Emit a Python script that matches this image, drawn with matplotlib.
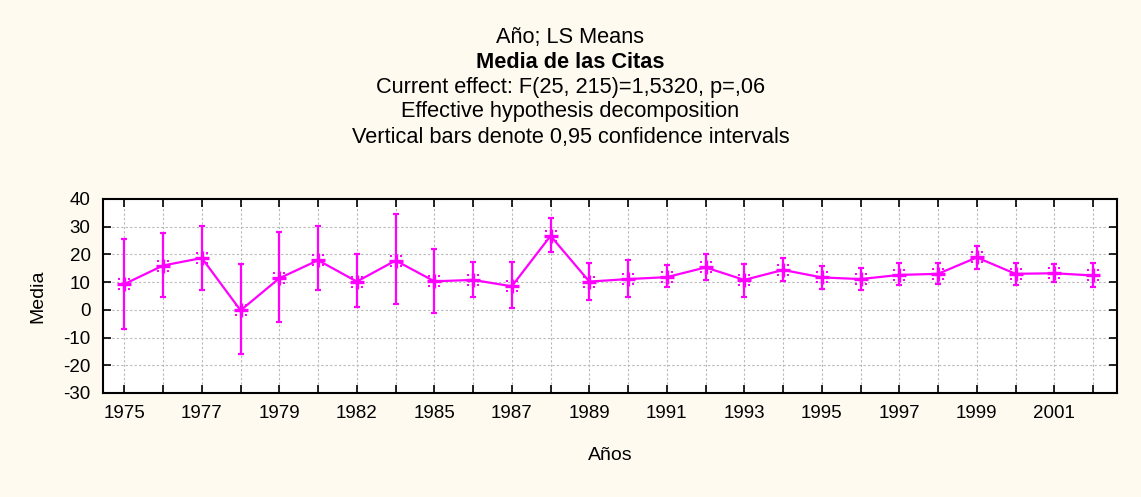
import numpy as np
import matplotlib
matplotlib.use("Agg")
import matplotlib.pyplot as plt
from matplotlib.path import Path

# LS means per year with 0.95 confidence limits
anios = ["1975", "1976", "1977", "1978", "1979", "1980", "1982", "1983", "1985",
         "1986", "1987", "1988", "1989", "1990", "1991", "1992", "1993", "1994",
         "1995", "1996", "1997", "1998", "1999", "2000", "2001", "2002"]
media = [9.3, 16.0, 18.7, -0.2, 11.4, 17.9, 10.2, 17.8, 10.3,
         10.8, 8.5, 26.7, 10.2, 11.1, 11.8, 15.3, 10.8, 14.4,
         11.7, 11.1, 12.6, 13.0, 18.9, 13.0, 13.2, 12.4]
lim_inf = [-6.9, 4.8, 7.2, -16.1, -4.5, 7.0, 1.0, 2.0, -1.0,
           4.8, 0.8, 20.7, 3.6, 4.6, 8.3, 10.6, 4.8, 10.5,
           7.6, 7.0, 9.1, 9.5, 14.8, 9.1, 10.2, 8.2]
lim_sup = [25.6, 27.8, 30.3, 16.4, 28.2, 30.1, 20.0, 34.7, 22.1,
           17.1, 17.4, 33.0, 16.8, 18.0, 16.1, 20.2, 16.4, 18.8,
           15.9, 15.2, 17.0, 17.0, 23.1, 17.0, 16.5, 17.0]

plt.rcParams["font.family"] = ["Liberation Sans", "DejaVu Sans"]
plt.rcParams["axes.unicode_minus"] = False

MAGENTA = "#ff00ff"
FONDO = "#fffaf0"


# four little dots at the corners of the cross
def marcador_puntos():
    verts, codes = [], []
    s = 0.2
    for cx, cy in [(-0.8, -0.8), (-0.8, 0.8), (0.8, -0.8), (0.8, 0.8)]:
        verts += [(cx - s, cy - s), (cx + s, cy - s), (cx + s, cy + s),
                  (cx - s, cy + s), (cx - s, cy - s)]
        codes += [Path.MOVETO, Path.LINETO, Path.LINETO, Path.LINETO, Path.CLOSEPOLY]
    return Path(verts, codes)


x = np.arange(len(anios))
media = np.array(media)
err = [media - np.array(lim_inf), np.array(lim_sup) - media]

fig = plt.figure(figsize=(11.41, 4.97), dpi=100, facecolor=FONDO)
ax = fig.add_axes([0.0903, 0.2093, 0.8887, 0.3903])
ax.set_facecolor("white")

ax.errorbar(x, media, yerr=err, fmt="none", ecolor=MAGENTA, elinewidth=1.6,
            capsize=2.5, capthick=1.6, zorder=3)
ax.plot(x, media, color=MAGENTA, lw=1.6, marker="+", markersize=10,
        markeredgewidth=2.4, zorder=4)
ax.plot(x, media, ls="none", marker=marcador_puntos(), markersize=9,
        color=MAGENTA, markeredgewidth=0, zorder=4)

ax.set_xlim(-0.55, len(anios) - 1 + 0.62)
ax.set_ylim(-30, 40)
ax.set_yticks(np.arange(-30, 41, 10))
ax.set_xticks(x)
ax.set_xticklabels([a if i % 2 == 0 else "" for i, a in enumerate(anios)])

ax.grid(True, color="#b8b8b8", ls=(0, (2, 2)), lw=0.8)
ax.set_axisbelow(True)
ax.tick_params(direction="in", top=True, right=True, length=6, width=1.2,
               labelsize=13.5, colors="black")
ax.tick_params(axis="x", pad=9)
ax.tick_params(axis="y", pad=9)
for sp in ax.spines.values():
    sp.set_linewidth(1.5)
    sp.set_color("black")

ax.set_xlabel("Años", fontsize=14, labelpad=18)
ax.set_ylabel("Media", fontsize=14, labelpad=12)

fig.text(0.5, 1 - 37 / 497, "Año; LS Means", ha="center", va="center", fontsize=15.7)
fig.text(0.5, 1 - 62 / 497, "Media de las Citas", ha="center", va="center",
         fontsize=15.7, fontweight="bold")
fig.text(0.5, 1 - 87 / 497, "Current effect: F(25, 215)=1,5320, p=,06",
         ha="center", va="center", fontsize=15.7)
fig.text(0.5, 1 - 112 / 497, "Effective hypothesis decomposition",
         ha="center", va="center", fontsize=15.7)
fig.text(0.5, 1 - 138 / 497, "Vertical bars denote 0,95 confidence intervals",
         ha="center", va="center", fontsize=15.7)

fig.savefig("out.png", dpi=100, facecolor=FONDO)
